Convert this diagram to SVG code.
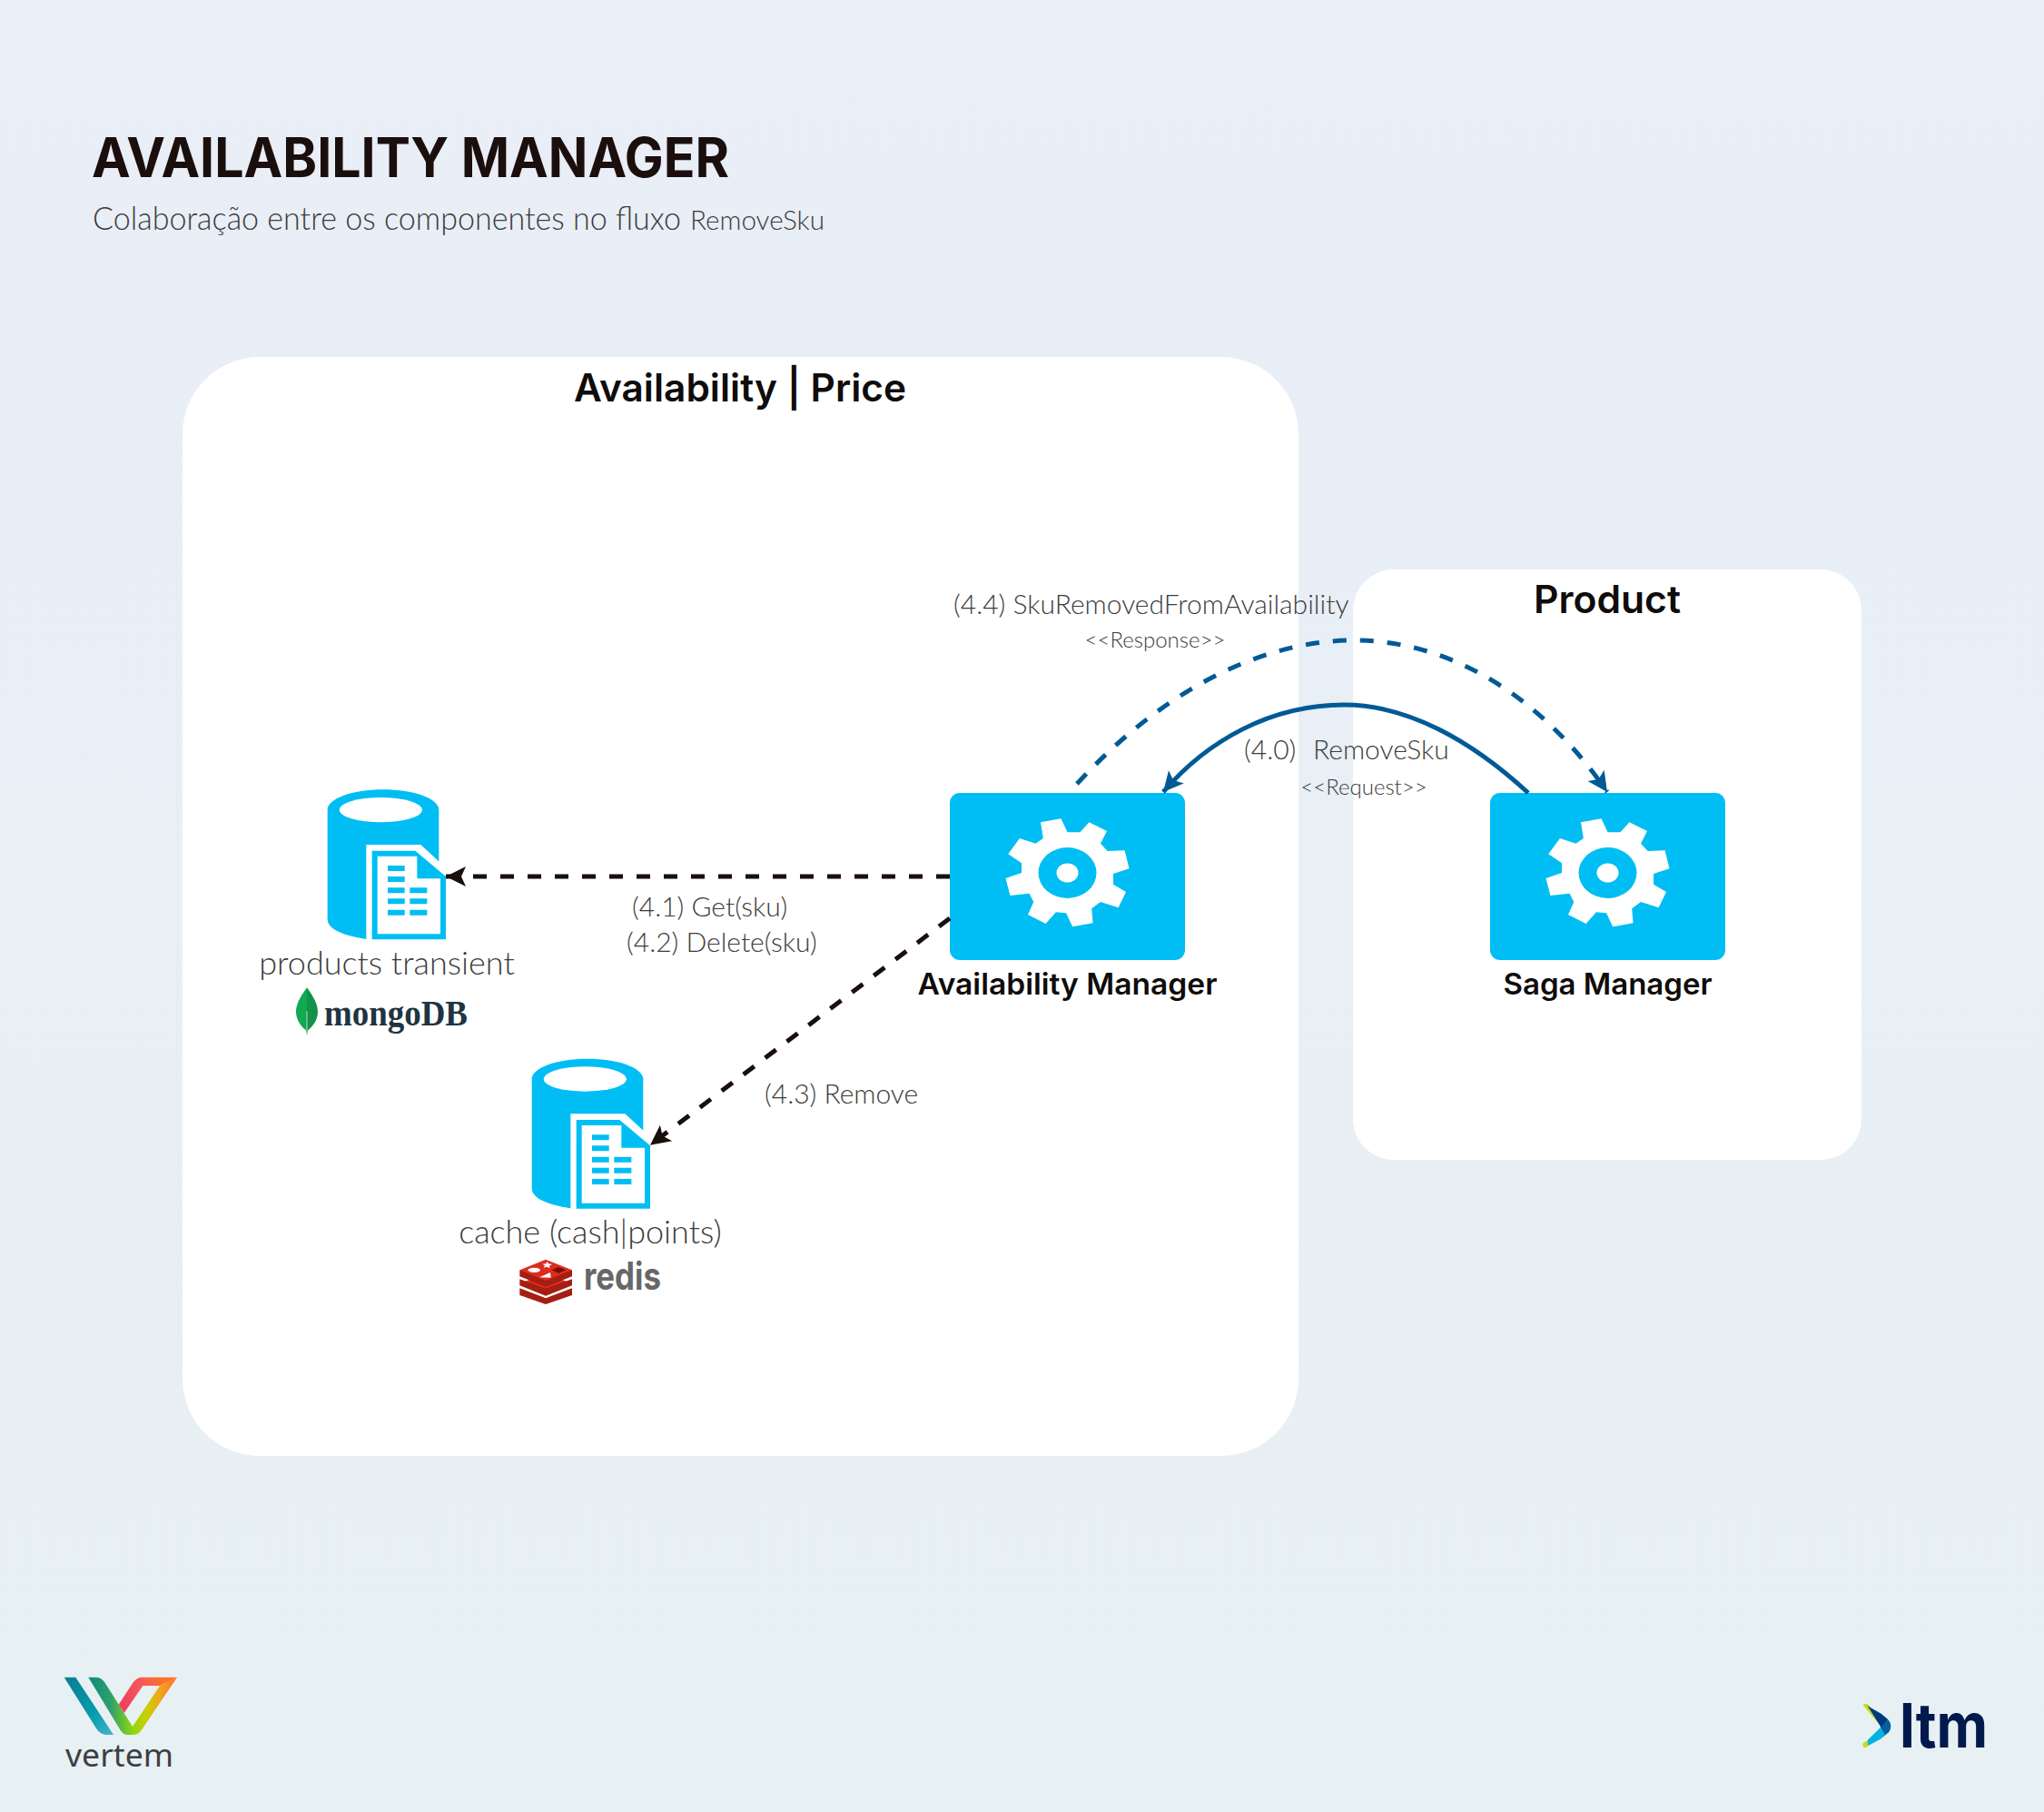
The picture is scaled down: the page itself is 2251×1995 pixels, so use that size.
<svg xmlns="http://www.w3.org/2000/svg" xmlns:xlink="http://www.w3.org/1999/xlink" width="2251" height="1995" viewBox="0 0 2251 1995">
<style>
.panel{fill:#fff}
.box{fill:#00bef3}
.blue{fill:#00bef3}
.wh{fill:#fff}
.t{font-family:"Lato","Liberation Sans",sans-serif;font-weight:300;fill:#3c3c3c}
.h{font-family:"Inter","Liberation Sans",sans-serif;font-weight:600;fill:#0f0c0c}
.title{font-family:"Inter","Liberation Sans",sans-serif;font-weight:700;fill:#1a0f0c;font-size:60px}
.c{font-size:30px}
.s{font-size:24px}
.d{font-size:36px}
.lk{fill:none;stroke-width:5}
.k{stroke:#1a0f0c}
.b{stroke:#005a96}
.dash{stroke-dasharray:15 15}
</style>
<defs>
<linearGradient id="bg" x1="0" y1="0" x2="0" y2="1"><stop offset="0" stop-color="#e9eef7"/><stop offset="1" stop-color="#e7f0f3"/></linearGradient>
<linearGradient id="vA" gradientUnits="userSpaceOnUse" x1="92" y1="80" x2="255" y2="270"><stop offset="0" stop-color="#0b7d92"/><stop offset=".6" stop-color="#019bad"/><stop offset="1" stop-color="#44b4c8"/></linearGradient>
<linearGradient id="vB" gradientUnits="userSpaceOnUse" x1="172" y1="0" x2="465" y2="0"><stop offset="0" stop-color="#0a8a82"/><stop offset=".25" stop-color="#2f9f6a"/><stop offset=".5" stop-color="#8fd610"/><stop offset=".65" stop-color="#c8d000"/><stop offset=".8" stop-color="#f0a818"/><stop offset="1" stop-color="#ff6f2a"/></linearGradient>
<linearGradient id="vC" gradientUnits="userSpaceOnUse" x1="280" y1="150" x2="420" y2="90"><stop offset="0" stop-color="#f0415f"/><stop offset=".5" stop-color="#f4575a"/><stop offset="1" stop-color="#ff7126"/></linearGradient>
<marker id="ak" markerUnits="userSpaceOnUse" markerWidth="24" markerHeight="24" refX="22" refY="12" orient="auto" overflow="visible"><path d="M22 12L0 1L5 12L0 23Z" fill="#1a0f0c"/></marker>
<marker id="ab" markerUnits="userSpaceOnUse" markerWidth="24" markerHeight="24" refX="22" refY="12" orient="auto" overflow="visible"><path d="M22 12L0 1L5 12L0 23Z" fill="#005a96"/></marker>
<g id="gear">
<path class="wh" fill-rule="evenodd" d="M-29.5 -55.7L-7 -59.7L0 -44.7L14 -44.7L23.9 -55.7L43.5 -46L36.5 -32.3L44.2 -24L63.1 -24.7L68 -4.7L50.5 1L50.5 12.7L64.5 21L56.1 38.3L36.5 32L26.7 39.3L28 55.3L5.6 59.3L-1.4 44.3L-12.6 43.3L-23.9 56L-43.5 46L-37.2 32L-42 22.7L-63.1 25L-68 6L-50.5 0L-50.5 -10.7L-65.2 -20.7L-52.6 -38L-35 -32.3L-26.7 -38Z"/>
<ellipse class="blue" cx="0" cy="0" rx="32" ry="28"/>
<ellipse class="wh" cx="0" cy="0" rx="12" ry="10.500"/>
</g>
<g id="db">
<path class="blue" d="M272 125C272 88 354 58 456 58C558 58 640 88 640 125V400H500V552H400C325 540 272 520 272 485Z"/>
<ellipse class="wh" cx="448" cy="125" rx="137" ry="41"/>
<path class="wh" d="M400 240H580L665 318V345H500V553H400Z"/>
<path class="blue" d="M419 260H562L663 345V553H419Z"/>
<path class="wh" d="M437 278H568V352H645V535H437Z"/>
<path class="blue" d="M471 309h56v18h-56zM471 345h56v18h-56zM471 382h56v18h-56zM471 418h56v18h-56zM471 455h56v18h-56zM544 382h57v18h-57zM544 418h57v18h-57zM544 455h57v18h-57z"/>
</g>
</defs>
<rect width="2251" height="1995" fill="url(#bg)"/>
<text class="title" x="101" y="195" textLength="702" lengthAdjust="spacingAndGlyphs">AVAILABILITY MANAGER</text>
<text class="t" x="102" y="253" font-size="36" textLength="648" lengthAdjust="spacingAndGlyphs">Colaboração entre os componentes no fluxo</text>
<text class="t" x="760" y="253" font-size="30" textLength="148" lengthAdjust="spacingAndGlyphs">RemoveSku</text>

<g id="panel-availability-price">
<rect class="panel" x="201" y="393" width="1229" height="1210" rx="85"/>
<text class="h" x="815" y="442" font-size="42" text-anchor="middle" textLength="366" lengthAdjust="spacingAndGlyphs">Availability | Price</text>
</g>
<g id="panel-product">
<rect class="panel" x="1490" y="627" width="560" height="650" rx="45"/>
<text class="h" x="1770" y="675" font-size="42" text-anchor="middle" textLength="162" lengthAdjust="spacingAndGlyphs">Product</text>
</g>

<g id="availability-manager">
<rect class="box" x="1046" y="873" width="259" height="184" rx="11"/>
<use href="#gear" transform="translate(1175.500 961)"/>
<text class="h" x="1175.500" y="1095" font-size="32" text-anchor="middle" textLength="330" lengthAdjust="spacingAndGlyphs">Availability Manager</text>
</g>
<g id="saga-manager">
<rect class="box" x="1641" y="873" width="259" height="184" rx="11"/>
<use href="#gear" transform="translate(1770.500 961)"/>
<text class="h" x="1770.500" y="1095" font-size="32" text-anchor="middle" textLength="230" lengthAdjust="spacingAndGlyphs">Saga Manager</text>
</g>

<g id="products-transient">
<use href="#db" transform="translate(270 850) scale(.33333)"/>
<text class="t d" x="426" y="1073" text-anchor="middle">products transient</text>
<g id="mongodb-logo" transform="translate(270 850) scale(.33333)">
<path d="M204 712C180 745 167 770 168 795C170 825 190 845 200 852L204 868Z" fill="#10aa50"/>
<path d="M204 712C228 745 241 770 240 795C238 825 218 845 208 852L204 868Z" fill="#12924a"/>
<path d="M204 790V868" stroke="#b8d8c4" stroke-width="3"/>
</g>
<text x="357" y="1129" font-family="Liberation Serif, serif" font-weight="700" font-size="40" fill="#1f3442" textLength="158" lengthAdjust="spacingAndGlyphs">mongoDB</text>
</g>

<g id="cache">
<use href="#db" transform="translate(495 1146.300) scale(.33333)"/>
<text class="t d" x="650" y="1369" text-anchor="middle">cache (cash|points)</text>
<g id="redis-logo" transform="translate(480 1150) scale(.33333)">
<path d="M277 805L363 838L450 805V828L363 858L277 828Z" fill="#a41e11"/>
<path d="M277 790L363 755L450 790L363 825Z" fill="#d82c20"/>
<path d="M277 775L363 806L450 775V796L363 830L277 796Z" fill="#a41e11"/>
<path d="M277 762L363 730L450 762L363 795Z" fill="#d82c20"/>
<path d="M277 745V766L363 800L450 766V745Z" fill="#a41e11"/>
<path d="M277 745L363 710L450 745L363 780Z" fill="#dc2d20"/>
<ellipse cx="325" cy="745" rx="20" ry="8" fill="#fff"/>
<path d="M368 716L372 724L384 726L375 731L377 739L366 734L356 737L360 730L352 725L364 724Z" fill="#fff"/>
<path d="M342 769L378 753L380 770Z" fill="#fff"/>
<path d="M383 745L405 735L430 745L405 755Z" fill="#7a0c00"/>
</g>
<text x="643" y="1420" font-family="Inter, Liberation Sans, sans-serif" font-weight="700" font-size="42" fill="#676767" textLength="85" lengthAdjust="spacingAndGlyphs">redis</text>
</g>

<g id="connectors">
<path class="lk k dash" d="M1046 965H491" marker-end="url(#ak)"/>
<path class="lk k dash" d="M1046 1011L716 1260.700" marker-end="url(#ak)"/>
<path class="lk b" d="M1683 873C1620 815 1550 776 1480 776C1400 776 1330 815 1281 872" marker-end="url(#ab)"/>
<path class="lk b dash" d="M1186 863C1290 750 1400 705 1491 705C1600 705 1700 770 1770 872" marker-end="url(#ab)"/>
<text class="t c" x="1050" y="676">(4.4)  SkuRemovedFromAvailability</text>
<text class="t s" x="1272" y="713" text-anchor="middle">&lt;&lt;Response&gt;&gt;</text>
<text class="t c" x="1370" y="836">(4.0)</text>
<text class="t c" x="1446" y="836">RemoveSku</text>
<text class="t s" x="1502" y="875" text-anchor="middle">&lt;&lt;Request&gt;&gt;</text>
<text class="t c" x="696" y="1009">(4.1) Get(sku)</text>
<text class="t c" x="690" y="1048">(4.2) Delete(sku)</text>
<text class="t c" x="842" y="1215">(4.3) Remove</text>
</g>

<g id="vertem-logo">
<g transform="translate(40 1820) scale(.33333)">
<path d="M92 80H130L255 270H232Q212 268 200 252Z" fill="url(#vA)"/>
<path d="M272 170L320 97Q332 80 348 80H465L408 108H352L290 198Z" fill="url(#vC)"/>
<path d="M172 80H200Q216 82 226 97L318 243L408 108L465 80L345 258Q335 270 320 270H300Q288 270 278 255Z" fill="url(#vB)"/>
</g>
<text x="72" y="1945" font-family="Noto Sans, sans-serif" font-size="34" fill="#3a3f42" textLength="119" lengthAdjust="spacingAndGlyphs">vertem</text>
</g>
<g id="ltm-logo">
<g transform="translate(2030 1860) scale(.33333)">
<path d="M65 52Q72 42 85 52L122 120Z" fill="#c6dc14"/>
<path d="M65 178L80 168L84 186L72 193Q62 190 65 178Z" fill="#c6dc14"/>
<path d="M80 55L125 80L148 100L125 128L120 118Z" fill="#003a80"/>
<path d="M148 100Q165 120 150 142L120 166L135 148L123 127Z" fill="#045f9e"/>
<path d="M122 127L138 150L120 166L82 186L80 168Z" fill="#00b4df"/>
</g>
<text x="2092" y="1924" font-family="Inter, Liberation Sans, sans-serif" font-weight="700" font-size="68" fill="#001a4d" textLength="97" lengthAdjust="spacingAndGlyphs">ltm</text>
</g>
</svg>
